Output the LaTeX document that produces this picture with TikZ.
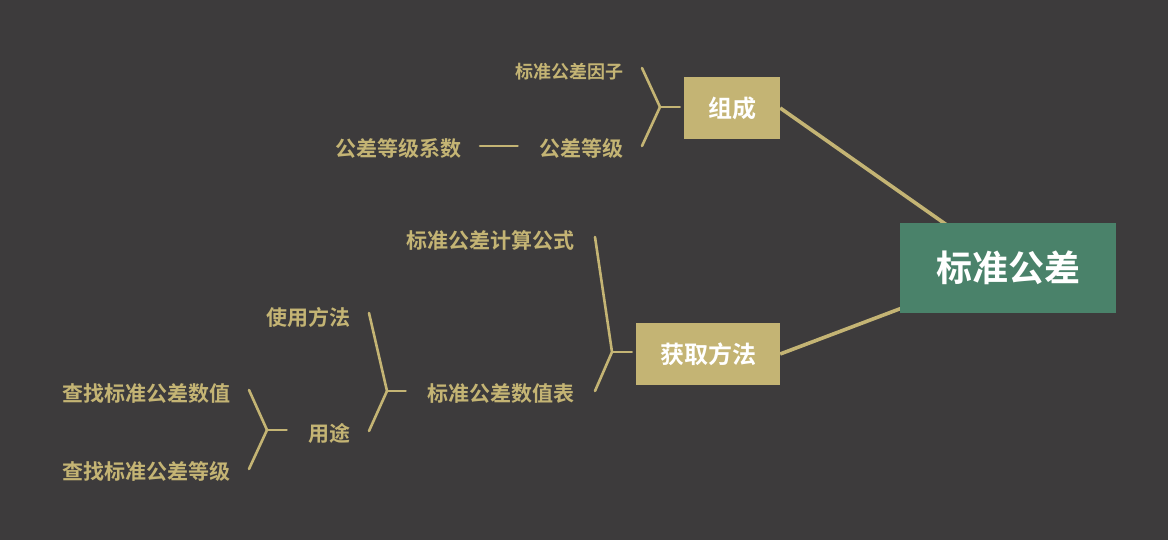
\documentclass[tikz,border=0pt]{standalone}
\usepackage{fontspec}
\newfontfamily\cjk{Noto Sans CJK SC}[BoldFont={* Bold}]
\usetikzlibrary{calc}
\definecolor{bg}{HTML}{3D3B3C}
\definecolor{gold}{HTML}{C4B474}
\definecolor{rootgreen}{HTML}{4A826A}
\tikzset{
  lbl/.style={anchor=east,inner sep=0pt,text=gold,font=\cjk\bfseries\fontsize{21}{24}\selectfont},
  small/.style={lbl,font=\cjk\bfseries\fontsize{18}{21}\selectfont},
  midbox/.style={fill=gold,text=white,inner sep=0pt,minimum height=62pt,font=\cjk\bfseries\fontsize{24}{28}\selectfont},
  rootbox/.style={fill=rootgreen,text=white,inner sep=0pt,minimum width=216pt,minimum height=90pt,font=\cjk\bfseries\fontsize{36}{40}\selectfont},
  br/.style={draw=gold,line width=2.6pt,line cap=round,line join=round},
  trunk/.style={draw=gold,line width=3.6pt}
}
\begin{document}
\begin{tikzpicture}[x=1pt,y=-1pt]
\fill[bg] (0,0) rectangle (1168,540);
\useasboundingbox (0,0) rectangle (1168,540);
% root & main branches
\coordinate (rc) at (1008,268);
\node[midbox,minimum width=96pt] (zc) at (732,108) {组成};
\node[midbox,minimum width=144pt] (hq) at (708,354) {获取方法};
\draw[trunk] (zc.east) -- (rc);
\draw[trunk] (hq.east) -- (rc);
\node[rootbox] (root) at (rc) {标准公差};
% 组成 children
\node[small] (yz) at (624,72) {标准公差因子};
\node[lbl] (dj) at (624,148) {公差等级};
\node[lbl] (xs) at (462,148) {公差等级系数};
\coordinate (j1) at (660,107);
\coordinate (j1a) at (642,68);
\coordinate (j1b) at (642,146);
\draw[br] (j1a) -- (j1) -- (j1b);
\draw[br] (j1) -- ($(zc.west)+(-4,-1)$);
\draw[br] ($(xs.east)+(18,-2)$) -- ($(dj.west)+(-22,-2)$);
% 获取方法 children
\node[lbl] (gs) at (575,240) {标准公差计算公式};
\node[lbl] (sz) at (575,394) {标准公差数值表};
\coordinate (j2) at (612,352);
\coordinate (j2a) at (595,237);
\coordinate (j2b) at (595,391);
\draw[br] (j2a) -- (j2) -- (j2b);
\draw[br] (j2) -- ($(hq.west)+(-4,-2)$);
% 数值表 children
\node[lbl] (ff) at (351,317) {使用方法};
\node[lbl] (yt) at (351,433) {用途};
\coordinate (j3) at (387,391);
\coordinate (j3a) at (369,313);
\coordinate (j3b) at (369,431);
\draw[br] (j3a) -- (j3) -- (j3b);
\draw[br] (j3) -- ($(sz.west)+(-22,-3)$);
% 用途 children
\node[lbl] (c1) at (231,394) {查找标准公差数值};
\node[lbl] (c2) at (231,471) {查找标准公差等级};
\coordinate (j4) at (267,430);
\coordinate (j4a) at (249,390);
\coordinate (j4b) at (249,469);
\draw[br] (j4a) -- (j4) -- (j4b);
\draw[br] (j4) -- ($(yt.west)+(-22,-3)$);
\end{tikzpicture}
\end{document}
